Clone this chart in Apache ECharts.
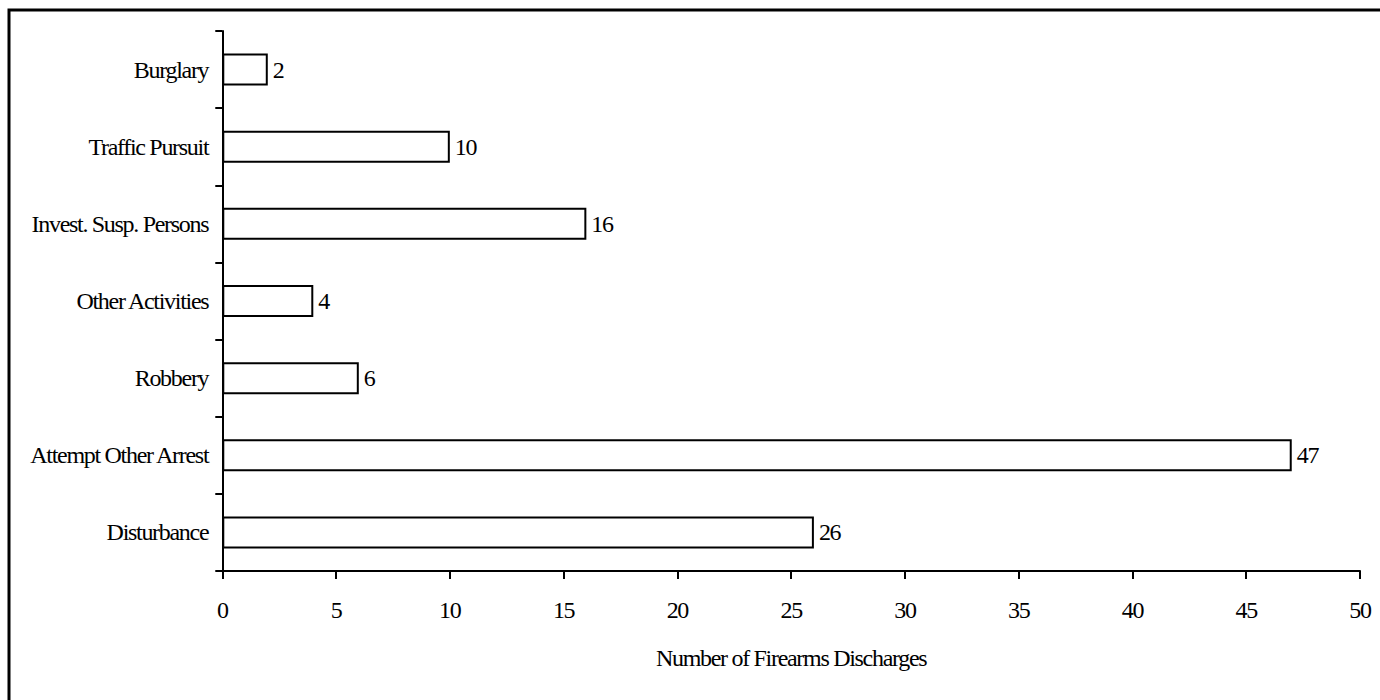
<!DOCTYPE html>
<html>
<head>
<meta charset="utf-8">
<script src="https://cdn.jsdelivr.net/npm/echarts@6/dist/echarts.min.js"></script>
<style>
  html, body { margin: 0; padding: 0; background: #fff; }
  #chart { width: 1380px; height: 700px; }
  #chart svg text { letter-spacing: -1.3px; }
</style>
</head>
<body>
<div id="chart"></div>
<script>
// Categories listed bottom-to-top (first category sits at the bottom of the axis)
const categories = ['Disturbance', 'Attempt Other Arrest', 'Robbery', 'Other Activities', 'Invest. Susp. Persons', 'Traffic Pursuit', 'Burglary'];
const discharges = [26, 47, 6, 4, 16, 10, 2];
const xTicks = [0, 5, 10, 15, 20, 25, 30, 35, 40, 45, 50];
const xAxisTitle = 'Number of Firearms Discharges';

const FONT = '"Liberation Serif", "Times New Roman", serif';
const chart = echarts.init(document.getElementById('chart'), null, { renderer: 'svg' });

chart.setOption({
  backgroundColor: '#ffffff',
  animation: false,
  grid: { left: 222, right: 20, top: 31, bottom: 129, containLabel: false },
  graphic: [{
    type: 'rect',
    shape: { x: 9, y: 10, width: 1400, height: 720 },
    style: { fill: 'none', stroke: '#000', lineWidth: 3 },
    silent: true, z: 100
  }],
  xAxis: {
    type: 'value',
    min: xTicks[0],
    max: xTicks[xTicks.length - 1],
    interval: xTicks[1] - xTicks[0],
    name: xAxisTitle,
    nameLocation: 'middle',
    nameGap: 75,
    nameTextStyle: { fontFamily: FONT, fontSize: 24, color: '#000' },
    axisLine: { show: true, onZero: false, lineStyle: { color: '#000', width: 2 } },
    axisTick: { show: true, length: 8, lineStyle: { color: '#000', width: 2 } },
    axisLabel: { fontFamily: FONT, fontSize: 24, color: '#000', margin: 27 },
    splitLine: { show: false }
  },
  yAxis: {
    type: 'category',
    data: categories,
    axisLine: { show: true, lineStyle: { color: '#000', width: 2 } },
    axisTick: { show: true, length: 7, lineStyle: { color: '#000', width: 2 } },
    axisLabel: { fontFamily: FONT, fontSize: 24, color: '#000', margin: 14 },
    splitLine: { show: false }
  },
  series: [{
    type: 'bar',
    data: discharges,
    barWidth: 32,
    itemStyle: { color: '#ffffff', borderColor: '#000', borderWidth: 2 },
    label: {
      show: true, position: 'right', distance: 5,
      fontFamily: FONT, fontSize: 24, color: '#000'
    }
  }]
});
</script>
</body>
</html>
